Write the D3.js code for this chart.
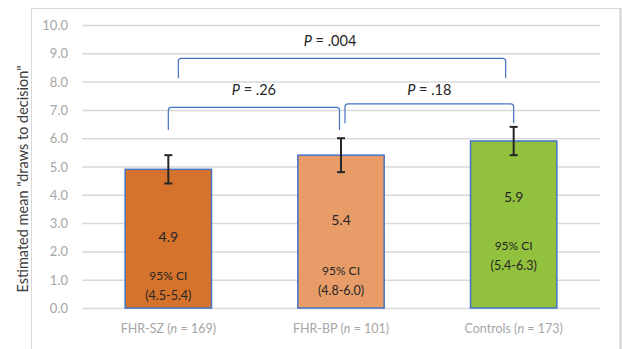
<!DOCTYPE html>
<html><head><meta charset="utf-8">
<script src="https://cdn.jsdelivr.net/npm/d3@7"></script>
<style>body{margin:0;background:#fff}svg{display:block}text{font-family:Lato,"Open Sans",sans-serif}</style>
</head><body>
<svg id="c" width="622" height="349"></svg>
<script>
// ---- data ----
const categories = ["FHR-SZ", "FHR-BP", "Controls"];
const sampleSizes = [169, 101, 173];
const means = [4.9, 5.4, 5.9];
const ciLow = [4.5, 4.8, 5.4];
const ciHigh = [5.4, 6.0, 6.3];
const errLow = [4.4, 4.8, 5.4];
const errHigh = [5.4, 6.0, 6.4];
const yTicks = [0,1,2,3,4,5,6,7,8,9,10];
const comparisons = [[0,1],[1,2],[0,2]];
const pLabels = [".26", ".18", ".004"];
const colors = ["#D5732C", "#E89D69", "#92C13D"];

// ---- layout ----
const svg = d3.select("#c");
const x = d3.scaleBand().domain(categories).range([82, 600]).paddingInner(0.5).paddingOuter(0.25);
const y = d3.scaleLinear().domain([0, 10]).range([308, 25]);

// chart frame
svg.append("rect").attr("x",31.5).attr("y",8.5).attr("width",589).attr("height",360)
  .attr("fill","none").attr("stroke","#D9D9D9").attr("stroke-width",1);
svg.append("line").attr("x1",620.5).attr("x2",620.5).attr("y1",8).attr("y2",349).attr("stroke","#D0D0D0").attr("stroke-width",2);

// gridlines
const yAxis = d3.axisLeft(y).tickValues(yTicks).tickFormat(d3.format(".1f")).tickSize(-(600-82)).tickPadding(14);
const gy = svg.append("g").attr("transform","translate(82,0)").call(yAxis);
gy.select(".domain").remove();
gy.selectAll(".tick line").attr("stroke","#D9D9D9").attr("stroke-width",1.5);
gy.selectAll(".tick text").attr("fill","#A6A6A6").attr("font-size",13).attr("dy","0.35em");

// y title
svg.append("text").attr("transform","translate(22,179) rotate(-90)").attr("text-anchor","middle")
  .attr("dominant-baseline","central").attr("font-size",14.5).attr("fill","#404040")
  .text('Estimated mean "draws to decision"');

// bars
const idx = d3.range(categories.length);
svg.selectAll("rect.bar").data(idx).join("rect").attr("class","bar")
  .attr("x", i => x(categories[i])).attr("width", x.bandwidth())
  .attr("y", i => y(means[i])).attr("height", i => y(0) - y(means[i]))
  .attr("fill", i => colors[i]).attr("stroke","#4472C4").attr("stroke-width",1.5);

// error bars
const eb = svg.selectAll("g.err").data(idx).join("g").attr("class","err")
  .attr("stroke","#262626").attr("stroke-width",2);
eb.append("line").attr("x1", i => x(categories[i]) + x.bandwidth()/2).attr("x2", i => x(categories[i]) + x.bandwidth()/2)
  .attr("y1", i => y(errLow[i])).attr("y2", i => y(errHigh[i]));
eb.append("line").attr("x1", i => x(categories[i]) + x.bandwidth()/2 - 4).attr("x2", i => x(categories[i]) + x.bandwidth()/2 + 4)
  .attr("y1", i => y(errLow[i])).attr("y2", i => y(errLow[i]));
eb.append("line").attr("x1", i => x(categories[i]) + x.bandwidth()/2 - 4).attr("x2", i => x(categories[i]) + x.bandwidth()/2 + 4)
  .attr("y1", i => y(errHigh[i])).attr("y2", i => y(errHigh[i]));

// text box positions inside bars (y-axis units, manual text boxes in original)
const valueLabelAt = [2.52, 3.14, 3.94];
const ciLabelAt = [1.15, 1.34, 2.21];
const cx = i => x(categories[i]) + x.bandwidth()/2;
svg.selectAll("text.val").data(idx).join("text").attr("class","val")
  .attr("x", cx).attr("y", i => y(valueLabelAt[i])).attr("text-anchor","middle").attr("dominant-baseline","central")
  .attr("font-size",14).attr("fill","#262626").text(i => means[i].toFixed(1));
svg.selectAll("text.ci1").data(idx).join("text").attr("class","ci1")
  .attr("x", cx).attr("y", i => y(ciLabelAt[i])).attr("text-anchor","middle").attr("dominant-baseline","central")
  .attr("font-size",12).attr("fill","#262626").text("95% CI");
svg.selectAll("text.ci2").data(idx).join("text").attr("class","ci2")
  .attr("x", cx).attr("y", i => y(ciLabelAt[i]) + 20).attr("text-anchor","middle").attr("dominant-baseline","central")
  .attr("font-size",12.5).attr("fill","#262626").text(i => `(${ciLow[i].toFixed(1)}-${ciHigh[i].toFixed(1)})`);

// x labels
svg.selectAll("text.xl").data(idx).join("text").attr("class","xl")
  .attr("x", cx).attr("y", 327.5).attr("text-anchor","middle").attr("dominant-baseline","central")
  .attr("font-size",12.5).attr("fill","#A6A6A6")
  .each(function(i){
    const t = d3.select(this);
    t.append("tspan").text(categories[i] + " (");
    t.append("tspan").attr("font-style","italic").text("n");
    t.append("tspan").text(" = " + sampleSizes[i] + ")");
  });

// brackets (manual shapes in original)
const bracketTop = [7.09, 7.21, 8.82];
const bracketBottom = [6.29, 6.53, 8.12];
const bracketInset = [[0, -1.5], [4, 0], [10, -8]];
const pLabelAt = [7.74, 7.74, 9.47];
const r = 3;
comparisons.forEach((c, k) => {
  const x1 = cx(c[0]) + bracketInset[k][0], x2 = cx(c[1]) + bracketInset[k][1];
  const yt = y(bracketTop[k]), yb = y(bracketBottom[k]);
  const p = d3.path();
  p.moveTo(x1, yb); p.lineTo(x1, yt + r); p.quadraticCurveTo(x1, yt, x1 + r, yt);
  p.lineTo(x2 - r, yt); p.quadraticCurveTo(x2, yt, x2, yt + r); p.lineTo(x2, yb);
  svg.append("path").attr("d", p.toString()).attr("fill","none").attr("stroke","#4472C4").attr("stroke-width",1.2);
  const t = svg.append("text").attr("x", (x1 + x2)/2 - (k===2 ? 12 : 0)).attr("y", y(pLabelAt[k]))
    .attr("text-anchor","middle").attr("dominant-baseline","central").attr("font-size",14.5).attr("fill","#262626");
  t.append("tspan").attr("font-style","italic").text("P");
  t.append("tspan").text(" = " + pLabels[k]);
});
</script>
</body></html>
